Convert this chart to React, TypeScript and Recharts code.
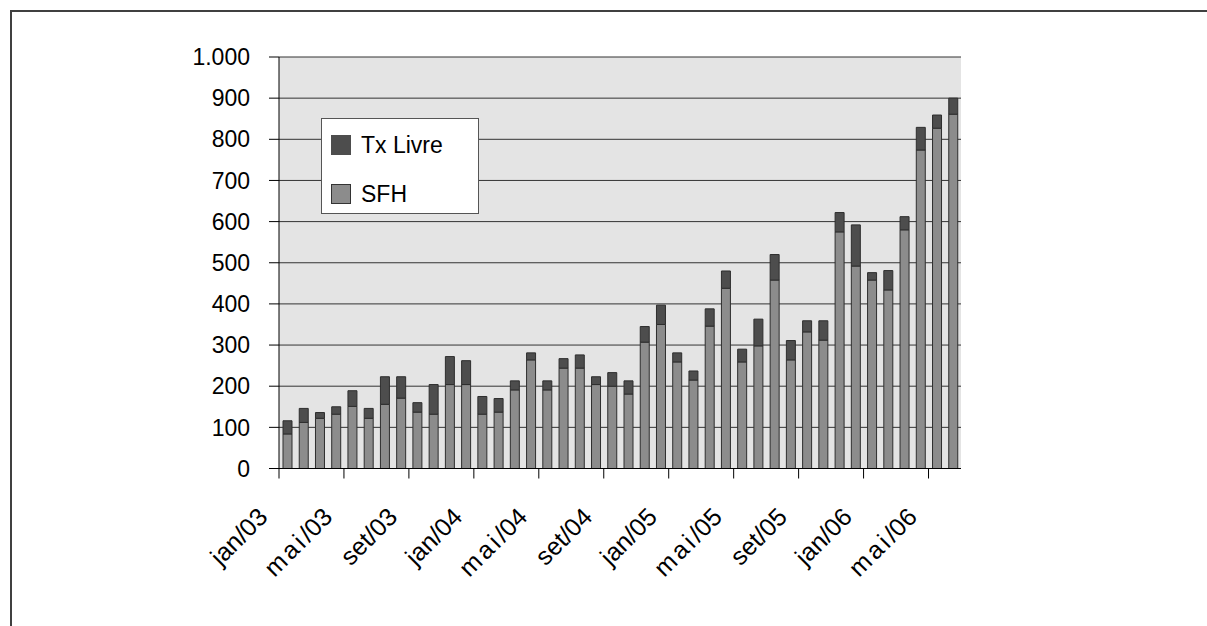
import React from "react";
import { BarChart, Bar, XAxis, YAxis, CartesianGrid, Legend } from "recharts";

// Monthly financing volumes, stacked: SFH at the base, Tx Livre on top
const months = [
  "jan/03", "fev/03", "mar/03", "abr/03", "mai/03", "jun/03", "jul/03", "ago/03", "set/03", "out/03", "nov/03", "dez/03",
  "jan/04", "fev/04", "mar/04", "abr/04", "mai/04", "jun/04", "jul/04", "ago/04", "set/04", "out/04", "nov/04", "dez/04",
  "jan/05", "fev/05", "mar/05", "abr/05", "mai/05", "jun/05", "jul/05", "ago/05", "set/05", "out/05", "nov/05", "dez/05",
  "jan/06", "fev/06", "mar/06", "abr/06", "mai/06", "jun/06",
];

const sfh = [
  84, 112, 122, 132, 151, 122, 156, 171, 137, 132, 204, 204,
  132, 137, 191, 264, 191, 244, 244, 204, 200, 181, 307, 350,
  259, 215, 346, 438, 259, 298, 458, 264, 332, 312, 575, 492,
  458, 434, 580, 774, 827, 861,
];

const txLivre = [
  32, 34, 14, 18, 38, 24, 67, 52, 23, 72, 68, 58,
  43, 33, 22, 17, 22, 23, 32, 19, 33, 32, 38, 47,
  22, 22, 42, 42, 31, 65, 62, 47, 27, 47, 47, 100,
  18, 47, 32, 55, 32, 39,
];

const yTicks = [0, 100, 200, 300, 400, 500, 600, 700, 800, 900, 1000];

const data = months.map((month, i) => ({ month, sfh: sfh[i], txLivre: txLivre[i] }));

const WIDTH = 1207;
const HEIGHT = 626;
const PLOT_LEFT = 279;
const PLOT_RIGHT = 961;
const PLOT_TOP = 57;
const PLOT_BOTTOM = 468.5;
const Y_AXIS_W = 80;
const X_AXIS_H = 100;
const BAND = (PLOT_RIGHT - PLOT_LEFT) / months.length;
const FONT = '"Liberation Sans", Arial, sans-serif';

const SFH_COLOR = "#8c8c8c";
const TX_COLOR = "#4d4d4d";
const OUTLINE = "#2e2e2e";

// 1000 -> "1.000"
const formatThousands = (v: number) => String(v).replace(/\B(?=(\d{3})+(?!\d))/g, ".");

// every 4th month gets a tick mark on the category boundary and a slanted label
const MonthTick = (props: any) => {
  const { x, y, payload } = props;
  const index = props.index ?? payload?.index ?? 0;
  if (index % 4 !== 0) return null;
  const edge = x - BAND / 2;
  const tx = edge - 10;
  const ty = y + 50;
  const label: string = payload.value;
  const [mon, yr] = label.split("/");
  return (
    <g>
      <line x1={edge} x2={edge} y1={y} y2={y + 10} stroke="#000" strokeWidth={1} />
      <text
        x={tx}
        y={ty}
        textAnchor="end"
        transform={`rotate(-45 ${tx} ${ty})`}
        fontSize={25}
        fontFamily={FONT}
        fill="#000"
      >
        <tspan letterSpacing={mon === "mai" ? 3 : 0}>{mon}</tspan>
        <tspan>{"/" + yr}</tspan>
      </text>
    </g>
  );
};

const legendItems = [
  { name: "Tx Livre", color: TX_COLOR },
  { name: "SFH", color: SFH_COLOR },
];

const LegendBox = () => (
  <div
    style={{
      position: "relative",
      width: 156,
      height: 94,
      background: "#fff",
      border: "1px solid #555",
      fontFamily: FONT,
      fontSize: 23,
      color: "#000",
    }}
  >
    {legendItems.map((item, i) => (
      <div key={item.name} style={{ position: "absolute", left: 9, top: 16 + i * 49, display: "flex", alignItems: "center" }}>
        <span
          style={{
            display: "inline-block",
            width: 18,
            height: 18,
            background: item.color,
            border: `1px solid ${i === 0 ? TX_COLOR : "#333"}`,
            marginRight: 10,
          }}
        />
        <span style={{ lineHeight: "20px" }}>{item.name}</span>
      </div>
    ))}
  </div>
);

const App: React.FC = () => {
  return (
    <div style={{ position: "absolute", left: 0, top: 0, width: WIDTH, height: HEIGHT, overflow: "hidden", background: "#fff" }}>
      <div
        style={{
          position: "absolute",
          left: 10,
          top: 10,
          width: WIDTH,
          height: HEIGHT,
          borderLeft: "2px solid #404040",
          borderTop: "2px solid #404040",
        }}
      />
      <div style={{ position: "absolute", left: 0, top: 0 }}>
        <BarChart
          width={WIDTH}
          height={HEIGHT}
          data={data}
          barSize={9}
          margin={{
            top: PLOT_TOP,
            right: WIDTH - PLOT_RIGHT,
            bottom: HEIGHT - PLOT_BOTTOM - X_AXIS_H,
            left: PLOT_LEFT - Y_AXIS_W,
          }}
        >
          <CartesianGrid vertical={false} fill="#e4e4e4" fillOpacity={1} stroke="#333" />
          <XAxis
            dataKey="month"
            interval={0}
            height={X_AXIS_H}
            tickLine={false}
            tickSize={0}
            tickMargin={0}
            axisLine={{ stroke: "#000" }}
            tick={<MonthTick />}
          />
          <YAxis
            domain={[0, 1000]}
            ticks={yTicks}
            width={Y_AXIS_W}
            tickSize={10}
            tickMargin={19}
            tickFormatter={formatThousands}
            axisLine={{ stroke: "#000" }}
            tickLine={{ stroke: "#000" }}
            tick={{ fontSize: 23, fill: "#000", fontFamily: FONT }}
            interval={0}
          />
          <YAxis
            yAxisId="frame"
            orientation="right"
            domain={[0, 1000]}
            width={0}
            tick={false}
            tickLine={false}
            axisLine={{ stroke: "#808080" }}
          />
          <Legend
            layout="vertical"
            align="center"
            verticalAlign="middle"
            content={<LegendBox />}
            wrapperStyle={{ left: 321, top: 118, width: 158, height: 96 }}
          />
          <Bar dataKey="sfh" name="SFH" stackId="v" fill={SFH_COLOR} stroke={OUTLINE} strokeWidth={1} isAnimationActive={false} />
          <Bar dataKey="txLivre" name="Tx Livre" stackId="v" fill={TX_COLOR} stroke={OUTLINE} strokeWidth={1} isAnimationActive={false} />
        </BarChart>
      </div>
    </div>
  );
};

export default App;
